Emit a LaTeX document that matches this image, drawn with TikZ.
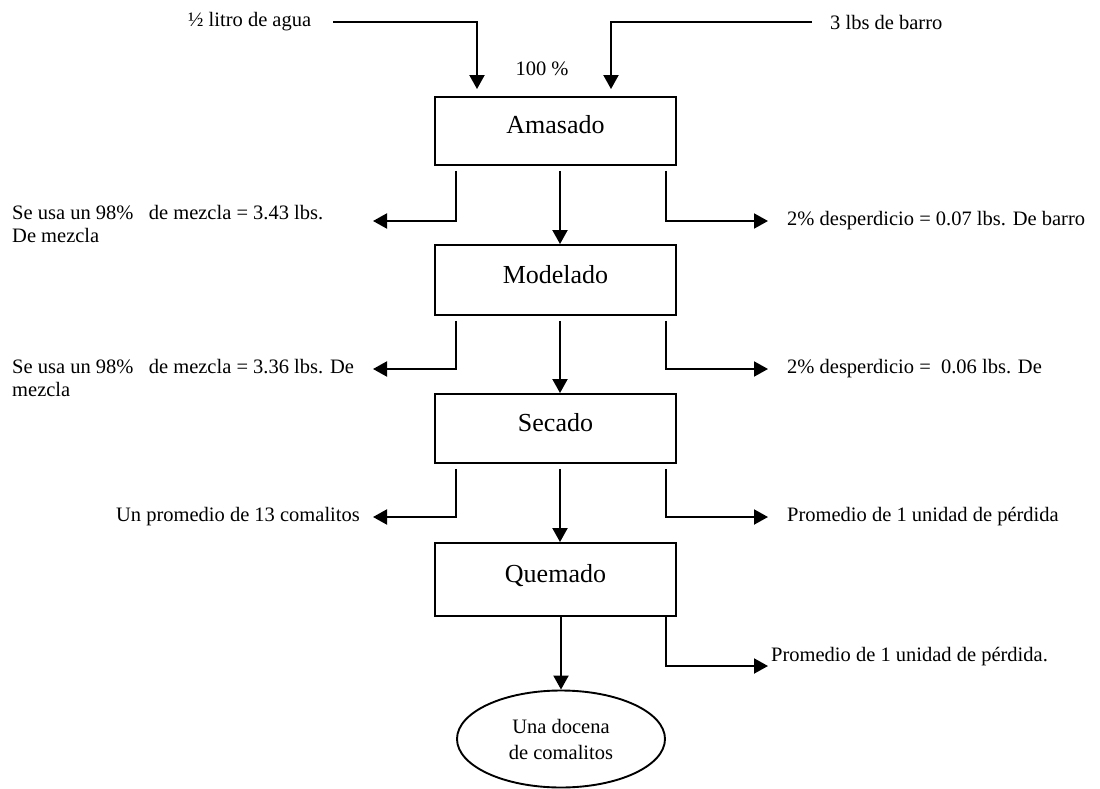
\documentclass[tikz,border=0pt]{standalone}
\usepackage{fontspec}
\setmainfont{Liberation Serif}
\usetikzlibrary{arrows.meta,shapes.geometric,calc}

\begin{document}
\begin{tikzpicture}[x=1pt,y=-1pt,
  proc/.style={draw,line width=1.9pt,minimum width=241pt,inner sep=0pt,
    font=\fontsize{26}{30}\selectfont,text height=18pt,text depth=12pt},
  lbl/.style={inner sep=0pt,font=\fontsize{20.5}{23}\selectfont},
  arr/.style={line width=2pt,-{Triangle[length=14pt,width=15pt]}}]
\useasboundingbox (0,0) rectangle (1100,789);

% process steps
\node[proc,minimum height=68pt] (am) at (555.5,131) {Amasado};
\node[proc,minimum height=70pt] (mo) at (555.5,280) {Modelado};
\node[proc,minimum height=69pt] (se) at (555.5,428.5) {Secado};
\node[proc,minimum height=73pt] (qu) at (555.5,579.5) {Quemado};
\node[ellipse,draw,line width=1.9pt,minimum width=208pt,minimum height=97pt,
  inner sep=0pt,align=center,font=\fontsize{20.5}{26}\selectfont]
  (doc) at (561,739) {Una docena\\de comalitos};

% inputs
\node[lbl,anchor=west] (agua) at (188,22) {½ litro de agua};
\node[lbl,anchor=west] (barro) at (830,22) {3 lbs de barro};
\node[lbl] (pct) at (542,69) {100 \%};
\draw[arr] ([xshift=22pt]agua.east) -| ([xshift=-78.5pt,yshift=7pt]am.north);
\draw[arr] ([xshift=-18pt]barro.west) -| ([xshift=55.5pt,yshift=7pt]am.north);

% main flow
\draw[arr] ([xshift=4.5pt,yshift=-5pt]am.south) -- ([xshift=4.5pt]mo.north);
\draw[arr] ([xshift=4.5pt,yshift=-5pt]mo.south) -- ([xshift=4.5pt]se.north);
\draw[arr] ([xshift=4.5pt,yshift=-5pt]se.south) -- ([xshift=4.5pt]qu.north);
\draw[arr] ([xshift=5.5pt]qu.south) -- (doc.north);

% side outputs
\coordinate (l1) at (373,221);
\coordinate (r1) at (768,221);
\coordinate (l2) at (373,369);
\coordinate (r2) at (768,369);
\coordinate (l3) at (373,517);
\coordinate (r3) at (768,517);
\coordinate (r4) at (768,666);
\draw[arr] ([xshift=22pt,yshift=-5pt]am.south west) |- (l1);
\draw[arr] ([xshift=-11pt,yshift=-5pt]am.south east) |- (r1);
\draw[arr] ([xshift=22pt,yshift=-5pt]mo.south west) |- (l2);
\draw[arr] ([xshift=-11pt,yshift=-5pt]mo.south east) |- (r2);
\draw[arr] ([xshift=22pt,yshift=-5pt]se.south west) |- (l3);
\draw[arr] ([xshift=-11pt,yshift=-5pt]se.south east) |- (r3);
\draw[arr] ([xshift=-11pt]qu.south east) |- (r4);

% side labels
\node[lbl,anchor=west,align=left] (t1l) at (12,223.5)
  {Se usa un 98\%\ \ \ de mezcla = 3.43 lbs.\\De mezcla};
\node[lbl,anchor=west,align=left] (t2l) at (12,377.5)
  {Se usa un 98\%\ \ \ de mezcla = 3.36 lbs. De\\mezcla};
\node[lbl,anchor=east] (t3l) at (360,517) {Un promedio de 13 comalitos};
\node[lbl,anchor=west] (t1r) at (787,221) {2\% desperdicio = 0.07 lbs. De barro};
\node[lbl,anchor=west] (t2r) at (787,369) {2\% desperdicio =\ \ 0.06 lbs. De};
\node[lbl,anchor=west] (t3r) at (787,517) {Promedio de 1 unidad de pérdida};
\node[lbl,anchor=west] (t4r) at (771,657) {Promedio de 1 unidad de pérdida.};
\end{tikzpicture}
\end{document}
